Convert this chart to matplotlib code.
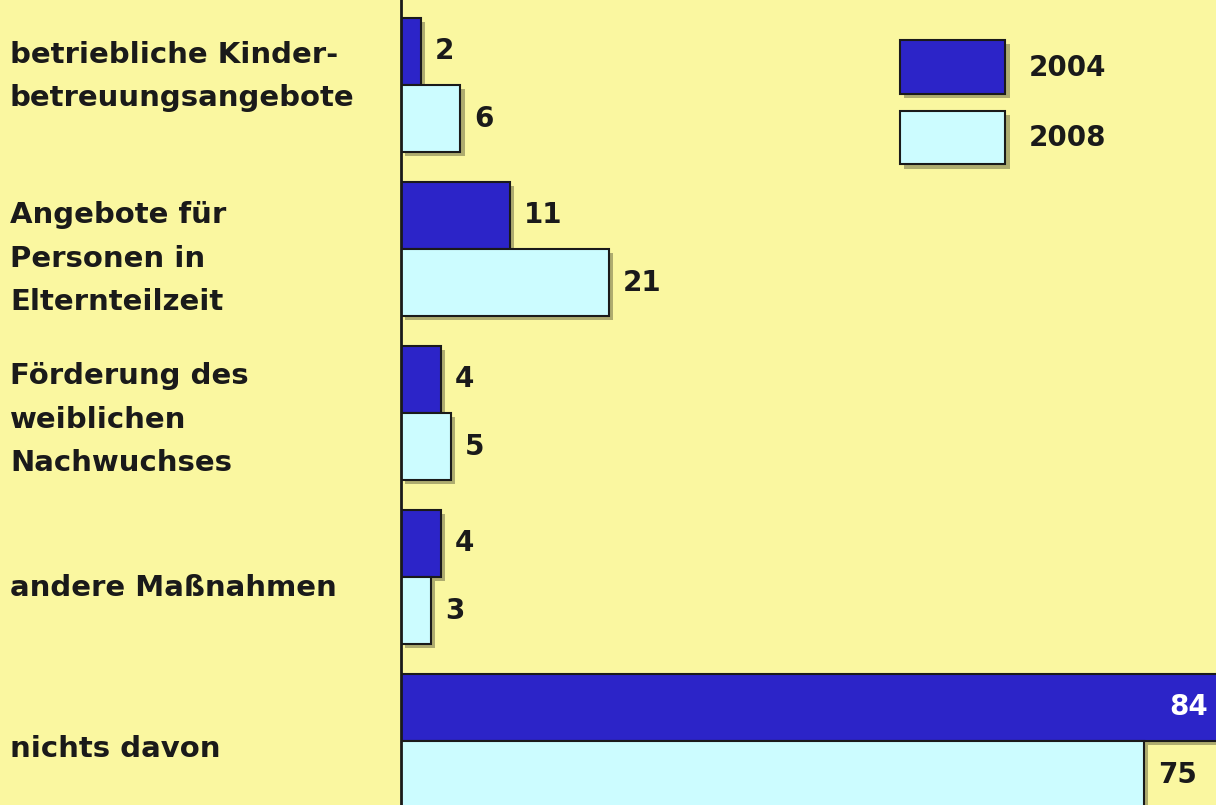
import numpy as np
import matplotlib.pyplot as plt
import matplotlib.patheffects as pe
import matplotlib.transforms as mtransforms
from matplotlib.patches import Patch

categories = ["betriebliche Kinder-\nbetreuungsangebote",
              "Angebote für\nPersonen in\nElternteilzeit",
              "Förderung des\nweiblichen\nNachwuchses",
              "andere Maßnahmen",
              "nichts davon"]
v2004 = [2, 11, 4, 4, 84]
v2008 = [6, 21, 5, 3, 75]
years = ["2004", "2008"]

bg = "#faf7a0"
dark = "#2c24c8"
light = "#ccfcff"

plt.rcParams['font.family'] = ['DejaVu Sans']
plt.rcParams['font.weight'] = 'bold'

fig = plt.figure(figsize=(12.16, 8.05), dpi=100, facecolor=bg)
ax = fig.add_axes([401 / 1216, 0, 1 - 401 / 1216, 1], facecolor=bg)

y = np.arange(len(categories))
h = 0.41
shadow = [pe.SimplePatchShadow(offset=(3, -3), shadow_rgbFace='k', alpha=0.3), pe.Normal()]

b1 = ax.barh(y - h / 2, v2004, height=h, color=dark, edgecolor='#1a1a1a', linewidth=1.5)
b2 = ax.barh(y + h / 2, v2008, height=h, color=light, edgecolor='#1a1a1a', linewidth=1.5)
for b in list(b1) + list(b2):
    b.set_path_effects(shadow)

ax.set_xlim(0, 82.3)
ax.set_ylim(4.39, -0.518)

fs = 20
off = mtransforms.offset_copy(ax.transData, fig=fig, x=14, y=0, units='dots')
for i in range(len(categories)):
    if v2004[i] > 82.3:
        ax.text(0.99, y[i] - h / 2, str(v2004[i]), color='white', fontsize=fs,
                ha='right', va='center',
                transform=mtransforms.blended_transform_factory(ax.transAxes, ax.transData))
    else:
        ax.text(v2004[i], y[i] - h / 2, str(v2004[i]), fontsize=fs, ha='left', va='center',
                color='#1a1a1a', transform=off)
    ax.text(v2008[i], y[i] + h / 2, str(v2008[i]), fontsize=fs, ha='left', va='center',
            color='#1a1a1a', transform=off)

# labels on the left sit a bit off the group centre
shift = [-0.05, 0.06, 0.04, 0.07, 0.05]
lab_tr = mtransforms.blended_transform_factory(fig.transFigure, ax.transData)
for i, c in enumerate(categories):
    ax.text(10 / 1216, y[i] + shift[i], c, fontsize=21, ha='left', va='center', color='#1a1a1a',
            linespacing=1.7, transform=lab_tr, clip_on=False)

for s in ['top', 'right', 'bottom']:
    ax.spines[s].set_visible(False)
ax.spines['left'].set_linewidth(2)
ax.spines['left'].set_color('#1a1a1a')
ax.set_xticks([])
ax.set_yticks([])

handles = [Patch(facecolor=dark, edgecolor='#1a1a1a', linewidth=1.5),
           Patch(facecolor=light, edgecolor='#1a1a1a', linewidth=1.5)]
leg = ax.legend(handles, years, loc='upper left', bbox_to_anchor=(0.612, 0.950),
                frameon=False, fontsize=fs, handlelength=3.8, handleheight=2.6,
                labelspacing=0.6, handletextpad=0.85, borderpad=0, borderaxespad=0)
for p in leg.get_patches():
    p.set_path_effects(shadow)
for t in leg.get_texts():
    t.set_color('#1a1a1a')

fig.savefig("out.png", dpi=100, facecolor=bg)
